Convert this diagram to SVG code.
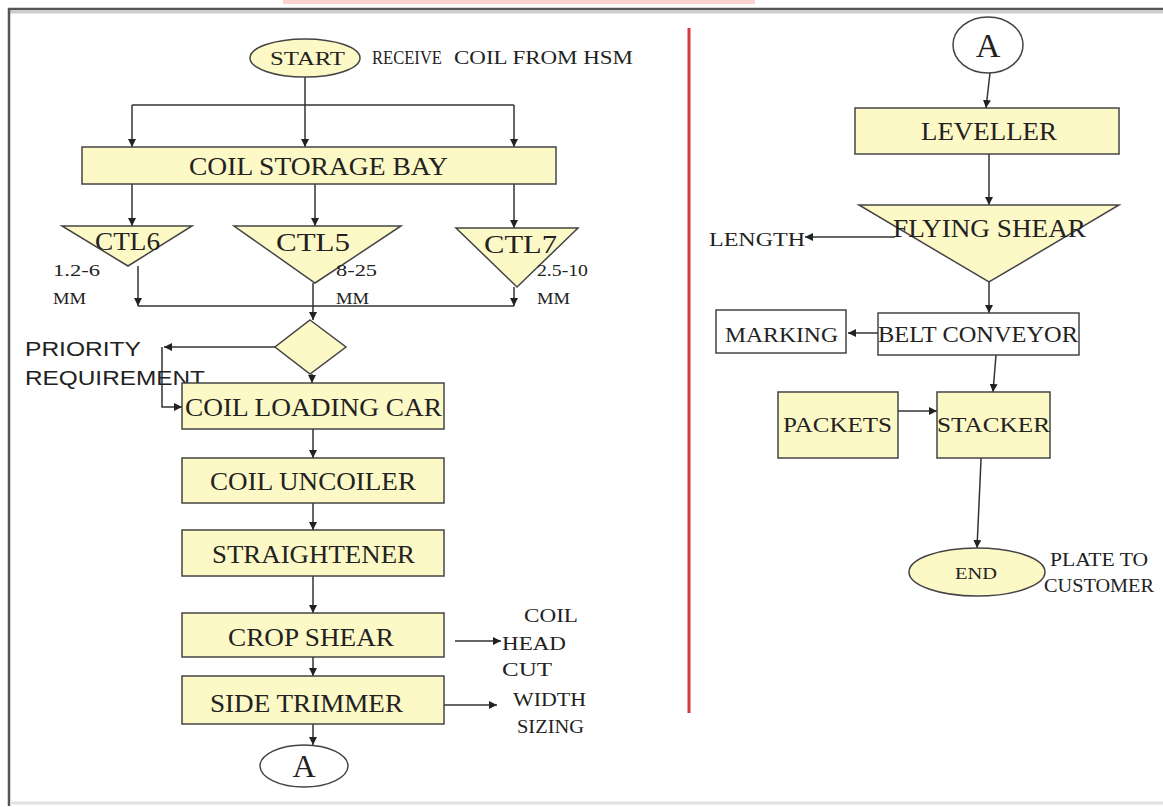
<svg xmlns="http://www.w3.org/2000/svg" width="1163" height="807" viewBox="0 0 1163 807">
<defs>
<marker id="ah" viewBox="0 0 10 10" refX="10" refY="5" markerWidth="8" markerHeight="8" markerUnits="userSpaceOnUse" orient="auto">
<path d="M0,0 L10,5 L0,10 Z" fill="#222"/>
</marker>
</defs>
<style>
.box{fill:#fcf9c6;stroke:#444;stroke-width:1.5}
.wbox{fill:#ffffff;stroke:#444;stroke-width:1.5}
.c{fill:none;stroke:#333;stroke-width:1.5;marker-end:url(#ah)}
.l{fill:none;stroke:#333;stroke-width:1.5}
.t{font-family:"Liberation Serif","Times New Roman",serif;fill:#222}
.s{font-family:"Liberation Sans",Arial,sans-serif;fill:#222}
</style>
<rect width="1163" height="807" fill="#ffffff"/>
<rect x="283" y="0" width="472" height="4" fill="#fbd3cf"/>
<g id="frame">
<path d="M8,9 H1163" stroke="#555" stroke-width="2.5" fill="none"/>
<path d="M10,12 H1163" stroke="#ccc" stroke-width="3" fill="none"/>
<path d="M9,8 V806" stroke="#555" stroke-width="2.5" fill="none"/>
<path d="M10,803 H1163" stroke="#e2e2e2" stroke-width="3" fill="none"/>
</g>
<line x1="689" y1="28" x2="689" y2="713" stroke="#d63a3f" stroke-width="3"/>
<g id="connectors">
<path class="c" d="M305,77 V147"/>
<path class="l" d="M132,105 H514"/>
<path class="c" d="M132,105 V147"/>
<path class="c" d="M514,105 V147"/>
<path class="c" d="M132,184 V226"/>
<path class="c" d="M315,184 V226"/>
<path class="c" d="M514,184 V228"/>
<path class="l" d="M138,306 H514"/>
<path class="c" d="M138,266 V306"/>
<path class="c" d="M514,287 V306"/>
<path class="c" d="M313,283 V320"/>
<path class="c" d="M312,374 V383"/>
<path class="c" d="M276,347 H164"/>
<path class="c" d="M162,347 V407 H182"/>
<path class="c" d="M313,429 V458"/>
<path class="c" d="M313,503 V530"/>
<path class="c" d="M313,576 V613"/>
<path class="c" d="M313,657 V676"/>
<path class="c" d="M313,716 V745"/>
<path class="c" d="M455,641 H501"/>
<path class="c" d="M444,705 H497"/>
<path class="c" d="M990,73 L986,108"/>
<path class="c" d="M989,154 V205"/>
<path class="c" d="M895,237 H805"/>
<path class="c" d="M989,282 V313"/>
<path class="c" d="M878,333 H848"/>
<path class="c" d="M996,355 L993,392"/>
<path class="c" d="M898,411 H937"/>
<path class="c" d="M982,438 L977,548"/>
</g>
<g id="start">
<ellipse class="box" cx="305" cy="58" rx="55" ry="19"/>
<text class="t" x="270" y="65" font-size="19" textLength="75" lengthAdjust="spacingAndGlyphs">START</text>
</g>
<g id="receive">
<text class="t" x="372" y="64" font-size="19" textLength="70" lengthAdjust="spacingAndGlyphs">RECEIVE</text>
<text class="t" x="454" y="64" font-size="19" textLength="179" lengthAdjust="spacingAndGlyphs">COIL FROM HSM</text>
</g>
<g id="storage">
<rect class="box" x="82" y="147" width="474" height="37"/>
<text class="t" x="189" y="175" font-size="25" textLength="259" lengthAdjust="spacingAndGlyphs">COIL  STORAGE  BAY</text>
</g>
<g id="ctl6">
<path class="box" d="M62,226 H192 L128,266 Z"/>
<text class="t" x="95" y="250" font-size="25" textLength="65" lengthAdjust="spacingAndGlyphs">CTL6</text>
<text class="t" x="53" y="276" font-size="17" textLength="47" lengthAdjust="spacingAndGlyphs">1.2-6</text>
<text class="t" x="53" y="304" font-size="17" textLength="33" lengthAdjust="spacingAndGlyphs">MM</text>
</g>
<g id="ctl5">
<path class="box" d="M234,226 H401 L315,283 Z"/>
<text class="t" x="276" y="251" font-size="25" textLength="74" lengthAdjust="spacingAndGlyphs">CTL5</text>
<text class="t" x="336" y="276" font-size="17" textLength="41" lengthAdjust="spacingAndGlyphs">8-25</text>
<text class="t" x="336" y="304" font-size="17" textLength="33" lengthAdjust="spacingAndGlyphs">MM</text>
</g>
<g id="ctl7">
<path class="box" d="M456,228 H578 L517,287 Z"/>
<text class="t" x="484" y="253" font-size="25" textLength="73" lengthAdjust="spacingAndGlyphs">CTL7</text>
<text class="t" x="537" y="276" font-size="17" textLength="51" lengthAdjust="spacingAndGlyphs">2.5-10</text>
<text class="t" x="537" y="304" font-size="17" textLength="33" lengthAdjust="spacingAndGlyphs">MM</text>
</g>
<g id="decision">
<path class="box" d="M310,320 L346,347 L310,374 L275,347 Z"/>
</g>
<g id="priority">
<text class="s" x="25" y="356" font-size="21" textLength="116" lengthAdjust="spacingAndGlyphs">PRIORITY</text>
<text class="s" x="25" y="385" font-size="21" textLength="180" lengthAdjust="spacingAndGlyphs">REQUIREMENT</text>
</g>
<g id="loading">
<rect class="box" x="182" y="383" width="262" height="46"/>
<text class="t" x="185" y="416" font-size="25" textLength="257" lengthAdjust="spacingAndGlyphs">COIL  LOADING  CAR</text>
</g>
<g id="uncoiler">
<rect class="box" x="182" y="458" width="262" height="45"/>
<text class="t" x="210" y="490" font-size="25" textLength="206" lengthAdjust="spacingAndGlyphs">COIL  UNCOILER</text>
</g>
<g id="straightener">
<rect class="box" x="182" y="530" width="262" height="46"/>
<text class="t" x="212" y="563" font-size="25" textLength="203" lengthAdjust="spacingAndGlyphs">STRAIGHTENER</text>
</g>
<g id="cropshear">
<rect class="box" x="182" y="613" width="262" height="44"/>
<text class="t" x="228" y="646" font-size="25" textLength="166" lengthAdjust="spacingAndGlyphs">CROP SHEAR</text>
</g>
<g id="sidetrimmer">
<rect class="box" x="182" y="676" width="262" height="48"/>
<text class="t" x="210" y="712" font-size="25" textLength="193" lengthAdjust="spacingAndGlyphs">SIDE  TRIMMER</text>
</g>
<g id="a-left">
<ellipse cx="304" cy="766" rx="44" ry="21" fill="#fff" stroke="#444" stroke-width="1.5"/>
<text class="t" x="304" y="777" font-size="32" text-anchor="middle">A</text>
</g>
<g id="headcut">
<text class="t" x="524" y="622" font-size="19" textLength="54" lengthAdjust="spacingAndGlyphs">COIL</text>
<text class="t" x="502" y="650" font-size="19" textLength="64" lengthAdjust="spacingAndGlyphs">HEAD</text>
<text class="t" x="502" y="676" font-size="19" textLength="50" lengthAdjust="spacingAndGlyphs">CUT</text>
</g>
<g id="widthsizing">
<text class="t" x="513" y="706" font-size="19" textLength="73" lengthAdjust="spacingAndGlyphs">WIDTH</text>
<text class="t" x="517" y="733" font-size="19" textLength="67" lengthAdjust="spacingAndGlyphs">SIZING</text>
</g>
<g id="a-right">
<ellipse cx="988" cy="45" rx="35" ry="28" fill="#fff" stroke="#444" stroke-width="1.5"/>
<text class="t" x="988" y="57" font-size="34" text-anchor="middle">A</text>
</g>
<g id="leveller">
<rect class="box" x="855" y="108" width="264" height="46"/>
<text class="t" x="921" y="140" font-size="25" textLength="136" lengthAdjust="spacingAndGlyphs">LEVELLER</text>
</g>
<g id="flyingshear">
<path class="box" d="M859,205 H1119 L989,282 Z"/>
<text class="t" x="893" y="237" font-size="25" textLength="193" lengthAdjust="spacingAndGlyphs">FLYING SHEAR</text>
</g>
<g id="length">
<text class="t" x="709" y="246" font-size="19" textLength="96" lengthAdjust="spacingAndGlyphs">LENGTH</text>
</g>
<g id="marking">
<rect class="wbox" x="716" y="310" width="130" height="43"/>
<text class="t" x="725" y="342" font-size="22" textLength="113" lengthAdjust="spacingAndGlyphs">MARKING</text>
</g>
<g id="belt">
<rect class="wbox" x="878" y="313" width="201" height="42"/>
<text class="t" x="878" y="342" font-size="23" textLength="200" lengthAdjust="spacingAndGlyphs">BELT CONVEYOR</text>
</g>
<g id="packets">
<rect class="box" x="778" y="392" width="120" height="66"/>
<text class="t" x="783" y="432" font-size="22" textLength="109" lengthAdjust="spacingAndGlyphs">PACKETS</text>
</g>
<g id="stacker">
<rect class="box" x="937" y="392" width="113" height="66"/>
<text class="t" x="937" y="432" font-size="22" textLength="113" lengthAdjust="spacingAndGlyphs">STACKER</text>
</g>
<g id="end">
<ellipse class="box" cx="977" cy="572" rx="68" ry="24"/>
<text class="t" x="955" y="579" font-size="17" textLength="42" lengthAdjust="spacingAndGlyphs">END</text>
</g>
<g id="plate">
<text class="t" x="1050" y="566" font-size="18" textLength="98" lengthAdjust="spacingAndGlyphs">PLATE TO</text>
<text class="t" x="1044" y="592" font-size="18" textLength="110" lengthAdjust="spacingAndGlyphs">CUSTOMER</text>
</g>
</svg>
